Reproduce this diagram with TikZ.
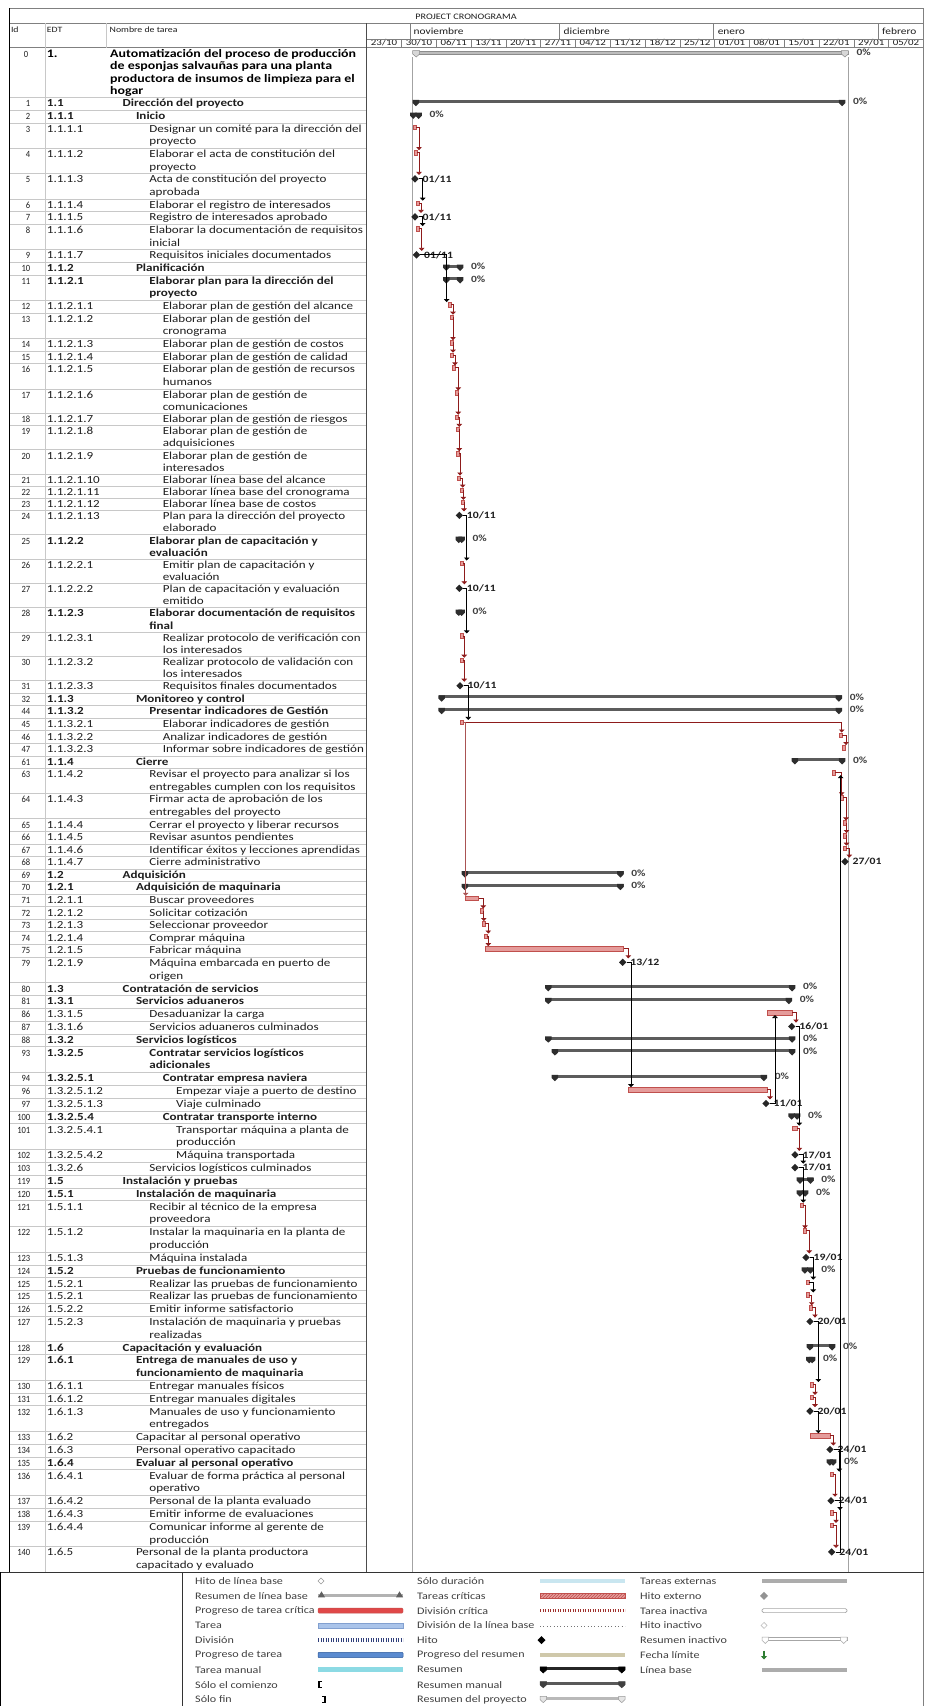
\documentclass[tikz,border=0pt]{standalone}
\usepackage{fontspec}
\setmainfont{Carlito}
\newfontfamily\bodyfont{Carlito}[FakeStretch=1.21]
\newfontfamily\narrowfont{Carlito}[FakeStretch=0.9]
\usetikzlibrary{shapes.geometric,arrows.meta,patterns}

\definecolor{txt}{HTML}{1E1E1E}
\definecolor{gridc}{HTML}{C8C8C8}
\definecolor{framec}{HTML}{808080}
\definecolor{critfill}{HTML}{E59C9B}
\definecolor{critline}{HTML}{C0504D}
\definecolor{linkred}{HTML}{8E1B1B}
\definecolor{sumfill}{HTML}{5C5C5C}
\definecolor{capc}{HTML}{2E2E2E}
\definecolor{msfill}{HTML}{262626}
\definecolor{projfill}{HTML}{BDBDBD}
\definecolor{projedge}{HTML}{8C8C8C}
\definecolor{labc}{HTML}{404040}
\definecolor{lgCritProg}{HTML}{E04848}
\definecolor{lgTask}{HTML}{AAC4EA}
\definecolor{lgTaskEdge}{HTML}{82A0D0}
\definecolor{lgSplit}{HTML}{2F3E7A}
\definecolor{lgProg}{HTML}{5B8BD0}
\definecolor{lgProgEdge}{HTML}{2E5A9C}
\definecolor{lgManual}{HTML}{8CDAE4}
\definecolor{lgDur}{HTML}{C9E6F0}
\definecolor{lgCritSplit}{HTML}{A0302C}
\definecolor{lgSumProg}{HTML}{CFC8AA}
\definecolor{lgDeadline}{HTML}{2E7D32}

\tikzset{
  rowline/.style={draw=gridc, line width=0.5},
  idtxt/.style={anchor=base east, inner sep=0, text=txt, font=\narrowfont\fontsize{9.5}{11}\selectfont},
  edttxt/.style={anchor=base west, inner sep=0, text=txt, font=\bodyfont\fontsize{10.8}{12}\selectfont},
  nametxt/.style={anchor=base west, inner sep=0, text=txt, font=\bodyfont\fontsize{10.8}{12}\selectfont},
  hdrtxt/.style={anchor=base west, inner sep=0, text=txt, font=\bodyfont\fontsize{8.1}{10}\selectfont},
  hdrdate/.style={anchor=base, inner sep=0, text=txt, font=\bodyfont\fontsize{9}{10}\selectfont},
  hdrmonth/.style={anchor=base west, inner sep=0, text=txt, font=\bodyfont\fontsize{9.4}{10}\selectfont},
  crit/.style={rectangle, inner sep=0, minimum height=4.5, fill=critfill, draw=critline, line width=0.4},
  ms/.style={diamond, aspect=1, inner sep=0, minimum width=7.5, minimum height=7.5, fill=msfill},
  sumbar/.style={rectangle, inner sep=0, minimum height=3, fill=sumfill},
  capfill/.style={fill=capc},
  projbar/.style={rectangle, inner sep=0, minimum height=3.5, fill=projfill, draw=projedge, line width=0.4},
  projcap/.style={fill=projfill!60, draw=projedge, line width=0.5},
  projline/.style={draw=projedge!80, line width=0.9},
  pctlab/.style={anchor=west, inner sep=0, text=labc, font=\bodyfont\bfseries\fontsize{9.5}{11}\selectfont},
  datelab/.style={anchor=west, inner sep=0, text=txt, font=\bodyfont\bfseries\fontsize{9.7}{11}\selectfont},
  crl/.style={draw=linkred, line width=0.75, -{Triangle[length=3pt,width=5.5pt]}},
  crlthin/.style={draw=linkred!75, line width=0.5, -{Triangle[length=3pt,width=5.5pt]}},
  bkl/.style={draw=black, line width=0.75, -{Triangle[length=3pt,width=5.5pt]}},
  legtxt/.style={anchor=west, inner sep=0, text=labc, font=\bodyfont\fontsize{10}{12}\selectfont},
}

% one table row: key, top, line height, id, EDT, indent x, weight, line 1, line 2
\newcommand\Row[9]{%
  \draw[rowline] (9.3,#2) -- (366.7,#2);
  \coordinate (Y#1) at (0,{#2+#3/2});
  \node[idtxt] (id#1) at (30.5,{#2+9.4}) {#4};
  \node[edttxt] (edt#1) at (46.7,{#2+9.4}) {#7#5};
  \node[nametxt] (nm#1) at (#6,{#2+9.4}) {#7#8};
  \if\relax\detokenize{#9}\relax\else
    \node[nametxt] (nmb#1) at (#6,{#2+9.4+#3}) {#7#9};
  \fi}

% Gantt elements
\newcommand\GSum[5]{%
  \node[sumbar, minimum width={#3-#2}, anchor=north west, yshift=4pt] (#1) at (#2,0 |- Y#4) {};
  \fill[capfill] (#1.north west) -- ++(6.5,0) -- ++(0,3.2) -- ++(-3.25,3.2) -- ++(-3.25,-3.2) -- cycle;
  \fill[capfill] (#1.north east) -- ++(-6.5,0) -- ++(0,3.2) -- ++(3.25,3.2) -- ++(3.25,-3.2) -- cycle;
  \node[pctlab] (#1l) at ([xshift=7.5pt]#1.east) {#5};}
\newcommand\GTask[4]{%
  \node[crit, minimum width={#3-#2}, anchor=west, yshift=2pt] (#1) at (#2,0 |- Y#4) {};}
\newcommand\GMile[4]{%
  \node[ms, yshift=1pt] (#1) at (#2,0 |- Y#3) {};
  \node[datelab] (#1l) at ([xshift=3.5pt]#1.east) {#4};}
\newcommand\Lk[4]{\draw[#1] (#2.east) -| (#4,0 |- #3.north);}
\newcommand\Lu[4]{\draw[#1] (#2.east) -| (#4,0 |- #3.south);}
% legend summary symbol
\newcommand\LegSum[6]{%
  \fill[#4] (#1,{#3-2.5}) rectangle (#2,{#3+0.5});
  \filldraw[fill=#5, draw=#6, line width=0.5] (#1,{#3-3}) -- ++(6.5,0) -- ++(0,3.2) -- ++(-3.25,3) -- ++(-3.25,-3) -- cycle;
  \filldraw[fill=#5, draw=#6, line width=0.5] (#2,{#3-3}) -- ++(-6.5,0) -- ++(0,3.2) -- ++(3.25,3) -- ++(3.25,-3) -- cycle;}

\begin{document}
\begin{tikzpicture}[x=1pt,y=-1pt]
\useasboundingbox (0,0) rectangle (924,1706);
\fill[white] (0,0) rectangle (924,1706);

% ---------------- header ----------------
\node[anchor=base, inner sep=0, text=txt, font=\bodyfont\fontsize{8.4}{10}\selectfont] (title) at (466,19) {PROJECT CRONOGRAMA};
\node[hdrtxt] (hId) at (10.8,32.3) {Id};
\node[hdrtxt] (hEdt) at (46.7,32.3) {EDT};
\node[hdrtxt] (hName) at (109.5,32.3) {Nombre de tarea};
\node[hdrmonth] (mNov) at (413.5,34.5) {noviembre};
\node[hdrmonth] (mDic) at (563.5,34.5) {diciembre};
\node[hdrmonth] (mEne) at (717.6,34.5) {enero};
\node[hdrmonth] (mFeb) at (882,34.5) {febrero};
\foreach \xm in {410.4,559.5,713.6,878.5} \draw[framec, line width=0.5] (\xm,23.3) -- (\xm,39.3);
\foreach \dd/\mm [count=\k from 0] in {23/10,30/10,06/11,13/11,20/11,27/11,04/12,11/12,18/12,25/12,01/01,08/01,15/01,22/01,29/01,05/02}{
  \node[hdrdate] (wk\k) at ({384.1+34.79*\k},45.6) {\dd/\mm};
  \draw[framec, line width=0.5] ({366.7+34.79*\k},39.3) -- ++(0,8.4);
}

% ---------------- row 0 ----------------
\node[idtxt] (id0) at (28.5,57.2) {0};
\node[anchor=base west, inner sep=0, text=black, font=\bodyfont\bfseries\fontsize{11.5}{12.5}\selectfont] (edt0) at (46.7,57.2) {1.};
\foreach \ln [count=\j from 0] in {Automatización del proceso de producción,de esponjas salvauñas para una planta,productora de insumos de limpieza para el,hogar}
  \node[anchor=base west, inner sep=0, text=black, font=\bodyfont\bfseries\fontsize{11.5}{12.5}\selectfont] (nm0-\j) at (110,{57.2+12.45*\j}) {\ln};

% ---------------- rows ----------------
\Row{1}{97.5}{12.67}{1}{1.1}{122.4}{\bfseries}{Dirección del proyecto}{}
\Row{2}{110.2}{12.67}{2}{1.1.1}{135.8}{\bfseries}{Inicio}{}
\Row{3}{122.8}{12.67}{3}{1.1.1.1}{149.2}{}{Designar un comité para la dirección del}{proyecto}
\Row{4}{148.2}{12.67}{4}{1.1.1.2}{149.2}{}{Elaborar el acta de constitución del}{proyecto}
\Row{5}{173.5}{12.67}{5}{1.1.1.3}{149.2}{}{Acta de constitución del proyecto}{aprobada}
\Row{6}{198.8}{12.67}{6}{1.1.1.4}{149.2}{}{Elaborar el registro de interesados}{}
\Row{7}{211.5}{12.67}{7}{1.1.1.5}{149.2}{}{Registro de interesados aprobado}{}
\Row{8}{224.2}{12.67}{8}{1.1.1.6}{149.2}{}{Elaborar la documentación de requisitos}{inicial}
\Row{9}{249.5}{12.67}{9}{1.1.1.7}{149.2}{}{Requisitos iniciales documentados}{}
\Row{10}{262.2}{12.67}{10}{1.1.2}{135.8}{\bfseries}{Planificación}{}
\Row{11}{274.8}{12.67}{11}{1.1.2.1}{149.2}{\bfseries}{Elaborar plan para la dirección del}{proyecto}
\Row{12}{300.2}{12.67}{12}{1.1.2.1.1}{162.6}{}{Elaborar plan de gestión del alcance}{}
\Row{13}{312.8}{12.67}{13}{1.1.2.1.2}{162.6}{}{Elaborar plan de gestión del}{cronograma}
\Row{14}{338.2}{12.67}{14}{1.1.2.1.3}{162.6}{}{Elaborar plan de gestión de costos}{}
\Row{15}{350.8}{12.67}{15}{1.1.2.1.4}{162.6}{}{Elaborar plan de gestión de calidad}{}
\Row{16}{363.5}{12.67}{16}{1.1.2.1.5}{162.6}{}{Elaborar plan de gestión de recursos}{humanos}
\Row{17}{388.8}{12.15}{17}{1.1.2.1.6}{162.6}{}{Elaborar plan de gestión de}{comunicaciones}
\Row{18}{413.1}{12.15}{18}{1.1.2.1.7}{162.6}{}{Elaborar plan de gestión de riesgos}{}
\Row{19}{425.3}{12.15}{19}{1.1.2.1.8}{162.6}{}{Elaborar plan de gestión de}{adquisiciones}
\Row{20}{449.6}{12.15}{20}{1.1.2.1.9}{162.6}{}{Elaborar plan de gestión de}{interesados}
\Row{21}{473.9}{12.15}{21}{1.1.2.1.10}{162.6}{}{Elaborar línea base del alcance}{}
\Row{22}{486.0}{12.15}{22}{1.1.2.1.11}{162.6}{}{Elaborar línea base del cronograma}{}
\Row{23}{498.2}{12.15}{23}{1.1.2.1.12}{162.6}{}{Elaborar línea base de costos}{}
\Row{24}{510.3}{12.15}{24}{1.1.2.1.13}{162.6}{}{Plan para la dirección del proyecto}{elaborado}
\Row{25}{534.6}{12.15}{25}{1.1.2.2}{149.2}{\bfseries}{Elaborar plan de capacitación y}{evaluación}
\Row{26}{558.9}{12.15}{26}{1.1.2.2.1}{162.6}{}{Emitir plan de capacitación y}{evaluación}
\Row{27}{583.2}{12.15}{27}{1.1.2.2.2}{162.6}{}{Plan de capacitación y evaluación}{emitido}
\Row{28}{607.5}{12.15}{28}{1.1.2.3}{149.2}{\bfseries}{Elaborar documentación de requisitos}{final}
\Row{29}{631.8}{12.15}{29}{1.1.2.3.1}{162.6}{}{Realizar protocolo de verificación con}{los interesados}
\Row{30}{656.1}{12.15}{30}{1.1.2.3.2}{162.6}{}{Realizar protocolo de validación con}{los interesados}
\Row{31}{680.4}{12.57}{31}{1.1.2.3.3}{162.6}{}{Requisitos finales documentados}{}
\Row{32}{693.0}{12.57}{32}{1.1.3}{135.8}{\bfseries}{Monitoreo y control}{}
\Row{44}{705.5}{12.57}{44}{1.1.3.2}{149.2}{\bfseries}{Presentar indicadores de Gestión}{}
\Row{45}{718.1}{12.57}{45}{1.1.3.2.1}{162.6}{}{Elaborar indicadores de gestión}{}
\Row{46}{730.7}{12.57}{46}{1.1.3.2.2}{162.6}{}{Analizar indicadores de gestión}{}
\Row{47}{743.2}{12.57}{47}{1.1.3.2.3}{162.6}{}{Informar sobre indicadores de gestión}{}
\Row{61}{755.8}{12.57}{61}{1.1.4}{135.8}{\bfseries}{Cierre}{}
\Row{63}{768.4}{12.57}{63}{1.1.4.2}{149.2}{}{Revisar el proyecto para analizar si los}{entregables cumplen con los requisitos}
\Row{64}{793.5}{12.57}{64}{1.1.4.3}{149.2}{}{Firmar acta de aprobación de los}{entregables del proyecto}
\Row{65}{818.6}{12.57}{65}{1.1.4.4}{149.2}{}{Cerrar el proyecto y liberar recursos}{}
\Row{66}{831.2}{12.57}{66}{1.1.4.5}{149.2}{}{Revisar asuntos pendientes}{}
\Row{67}{843.8}{12.57}{67}{1.1.4.6}{149.2}{}{Identificar éxitos y lecciones aprendidas}{}
\Row{68}{856.3}{12.57}{68}{1.1.4.7}{149.2}{}{Cierre administrativo}{}
\Row{69}{868.9}{12.57}{69}{1.2}{122.4}{\bfseries}{Adquisición}{}
\Row{70}{881.5}{12.57}{70}{1.2.1}{135.8}{\bfseries}{Adquisición de maquinaria}{}
\Row{71}{894.0}{12.57}{71}{1.2.1.1}{149.2}{}{Buscar proveedores}{}
\Row{72}{906.6}{12.57}{72}{1.2.1.2}{149.2}{}{Solicitar cotización}{}
\Row{73}{919.2}{12.57}{73}{1.2.1.3}{149.2}{}{Seleccionar proveedor}{}
\Row{74}{931.7}{12.57}{74}{1.2.1.4}{149.2}{}{Comprar máquina}{}
\Row{75}{944.3}{12.57}{75}{1.2.1.5}{149.2}{}{Fabricar máquina}{}
\Row{79}{956.9}{12.83}{79}{1.2.1.9}{149.2}{}{Máquina embarcada en puerto de}{origen}
\Row{80}{982.6}{12.83}{80}{1.3}{122.4}{\bfseries}{Contratación de servicios}{}
\Row{81}{995.4}{12.83}{81}{1.3.1}{135.8}{\bfseries}{Servicios aduaneros}{}
\Row{86}{1008.2}{12.83}{86}{1.3.1.5}{149.2}{}{Desaduanizar la carga}{}
\Row{87}{1021.1}{12.83}{87}{1.3.1.6}{149.2}{}{Servicios aduaneros culminados}{}
\Row{88}{1033.9}{12.83}{88}{1.3.2}{135.8}{\bfseries}{Servicios logísticos}{}
\Row{93}{1046.7}{12.83}{93}{1.3.2.5}{149.2}{\bfseries}{Contratar servicios logísticos}{adicionales}
\Row{94}{1072.4}{12.83}{94}{1.3.2.5.1}{162.6}{\bfseries}{Contratar empresa naviera}{}
\Row{96}{1085.2}{12.83}{96}{1.3.2.5.1.2}{176}{}{Empezar viaje a puerto de destino}{}
\Row{97}{1098.0}{12.83}{97}{1.3.2.5.1.3}{176}{}{Viaje culminado}{}
\Row{100}{1110.9}{12.83}{100}{1.3.2.5.4}{162.6}{\bfseries}{Contratar transporte interno}{}
\Row{101}{1123.7}{12.83}{101}{1.3.2.5.4.1}{176}{}{Transportar máquina a planta de}{producción}
\Row{102}{1149.4}{12.83}{102}{1.3.2.5.4.2}{176}{}{Máquina transportada}{}
\Row{103}{1162.2}{12.83}{103}{1.3.2.6}{149.2}{}{Servicios logísticos culminados}{}
\Row{119}{1175.0}{12.83}{119}{1.5}{122.4}{\bfseries}{Instalación y pruebas}{}
\Row{120}{1187.9}{12.83}{120}{1.5.1}{135.8}{\bfseries}{Instalación de maquinaria}{}
\Row{121}{1200.7}{12.83}{121}{1.5.1.1}{149.2}{}{Recibir al técnico de la empresa}{proveedora}
\Row{122}{1226.4}{12.83}{122}{1.5.1.2}{149.2}{}{Instalar la maquinaria en la planta de}{producción}
\Row{123}{1252.0}{12.83}{123}{1.5.1.3}{149.2}{}{Máquina instalada}{}
\Row{124}{1264.9}{12.8}{124}{1.5.2}{135.8}{\bfseries}{Pruebas de funcionamiento}{}
\Row{125a}{1277.7}{12.8}{125}{1.5.2.1}{149.2}{}{Realizar las pruebas de funcionamiento}{}
\Row{125b}{1290.5}{12.8}{125}{1.5.2.1}{149.2}{}{Realizar las pruebas de funcionamiento}{}
\Row{126}{1303.3}{12.8}{126}{1.5.2.2}{149.2}{}{Emitir informe satisfactorio}{}
\Row{127}{1316.1}{12.8}{127}{1.5.2.3}{149.2}{}{Instalación de maquinaria y pruebas}{realizadas}
\Row{128}{1341.7}{12.8}{128}{1.6}{122.4}{\bfseries}{Capacitación y evaluación}{}
\Row{129}{1354.5}{12.8}{129}{1.6.1}{135.8}{\bfseries}{Entrega de manuales de uso y}{funcionamiento de maquinaria}
\Row{130}{1380.1}{12.8}{130}{1.6.1.1}{149.2}{}{Entregar manuales físicos}{}
\Row{131}{1392.9}{12.8}{131}{1.6.1.2}{149.2}{}{Entregar manuales digitales}{}
\Row{132}{1405.7}{12.8}{132}{1.6.1.3}{149.2}{}{Manuales de uso y funcionamiento}{entregados}
\Row{133}{1431.3}{12.8}{133}{1.6.2}{135.8}{}{Capacitar al personal operativo}{}
\Row{134}{1444.1}{12.8}{134}{1.6.3}{135.8}{}{Personal operativo capacitado}{}
\Row{135}{1456.9}{12.8}{135}{1.6.4}{135.8}{\bfseries}{Evaluar al personal operativo}{}
\Row{136}{1469.7}{12.8}{136}{1.6.4.1}{149.2}{}{Evaluar de forma práctica al personal}{operativo}
\Row{137}{1495.3}{12.8}{137}{1.6.4.2}{149.2}{}{Personal de la planta evaluado}{}
\Row{138}{1508.1}{12.8}{138}{1.6.4.3}{149.2}{}{Emitir informe de evaluaciones}{}
\Row{139}{1520.9}{12.8}{139}{1.6.4.4}{149.2}{}{Comunicar informe al gerente de}{producción}
\Row{140}{1546.5}{12.8}{140}{1.6.5}{135.8}{}{Personal de la planta productora}{capacitado y evaluado}

% ---------------- frame ----------------
\draw[framec, line width=0.6] (9.3,8.3) -- (923.5,8.3);
\draw[framec, line width=0.6] (9.3,23.3) -- (923.5,23.3);
\draw[framec, line width=0.6] (366.7,39.3) -- (923.5,39.3);
\draw[framec, line width=0.6] (9.3,47.7) -- (923.5,47.7);
\draw[framec, line width=0.6] (923.5,8.3) -- (923.5,1706);
\draw[gridc, line width=0.6] (45,23.3) -- (45,1572);
\draw[gridc, line width=0.6] (106,23.3) -- (106,47.7);
\draw[black!70, line width=0.7] (366.7,23.3) -- (366.7,1572);
\draw[black, line width=1.6] (9.3,8.3) -- (9.3,1572);
\draw[black!80, line width=0.8] (0,1572) -- (923.5,1572);
\draw[black, line width=1.2] (0.6,1572) -- (0.6,1706);
\draw[black!80, line width=0.8] (182,1572) -- (182,1706);

% ---------------- Gantt ----------------
% project summary and its start / finish lines
\draw[projline] (412.7,57) -- (412.7,1572);
\draw[projline] (848,57) -- (848,1572);
\node[projbar, minimum width=435.3, anchor=north west] (p0) at (412.7,50.5) {};
\filldraw[projcap] (p0.north west) -- ++(7,0) -- ++(0,3.5) -- ++(-3.5,3) -- ++(-3.5,-3) -- cycle;
\filldraw[projcap] (p0.north east) -- ++(-7,0) -- ++(0,3.5) -- ++(3.5,3) -- ++(3.5,-3) -- cycle;
\node[pctlab] (p0l) at ([xshift=8pt]p0.east) {0\%};

% 1.1 Dirección del proyecto
\GSum{s1}{412.7}{845}{1}{0\%}
\GSum{s2}{410}{421.5}{2}{0\%}
\GTask{t3}{412.5}{415.5}{3}
\GTask{t4}{413.5}{416.5}{4}
\GMile{m5}{415}{5}{01/11}
\GTask{t6}{416}{419}{6}
\GMile{m7}{415}{7}{01/11}
\GTask{t8}{416}{419}{8}
\GMile{m9}{416.5}{9}{01/11}
\Lk{crl}{t3}{t4}{419}
\Lk{crl}{t4}{m5}{419}
\Lk{bkl}{m5}{t6}{422.7}
\Lk{crl}{t6}{m7}{421}
\Lk{bkl}{m7}{t8}{422.7}
\Lk{crl}{t8}{m9}{421.7}

\GSum{s10}{443}{463}{10}{0\%}
\GSum{s11}{443}{463}{11}{0\%}
\GTask{t12}{448}{451}{12}
\GTask{t13}{450}{453}{13}
\GTask{t14}{450}{453}{14}
\GTask{t15}{450}{453}{15}
\GTask{t16}{452}{455}{16}
\GTask{t17}{455}{458}{17}
\GTask{t18}{455}{458}{18}
\GTask{t19}{456}{459}{19}
\GTask{t20}{456}{459}{20}
\GTask{t21}{457}{460}{21}
\GTask{t22}{459.5}{462.5}{22}
\GTask{t23}{460.5}{463.5}{23}
\GMile{m24}{459.3}{24}{10/11}
\Lk{bkl}{m9}{t12}{446.7}
\Lk{crl}{t12}{t13}{453}
\Lk{crl}{t13}{t14}{453}
\Lk{crl}{t14}{t15}{453}
\Lk{crl}{t15}{t16}{455}
\Lk{crl}{t16}{t17}{458.3}
\Lk{crl}{t17}{t18}{458.3}
\Lk{crl}{t18}{t19}{459.3}
\Lk{crl}{t19}{t20}{459.3}
\Lk{crl}{t20}{t21}{460}
\Lk{crl}{t21}{t22}{462.7}
\Lk{crl}{t22}{t23}{463.3}
\Lk{crl}{t23}{m24}{464}

\GSum{s25}{455.5}{464.5}{25}{0\%}
\GTask{t26}{460}{463}{26}
\GMile{m27}{459.3}{27}{10/11}
\GSum{s28}{455.5}{464.5}{28}{0\%}
\GTask{t29}{460}{463}{29}
\GTask{t30}{460}{463}{30}
\GMile{m31}{460}{31}{10/11}
\Lk{bkl}{m24}{t26}{466.7}
\Lk{crl}{t26}{m27}{464.3}
\Lk{bkl}{m27}{t29}{466.7}
\Lk{crl}{t29}{t30}{464.3}
\Lk{crl}{t30}{m31}{464.3}

% 1.1.3 Monitoreo y control / 1.1.4 Cierre
\GSum{s32}{438.3}{841.7}{32}{0\%}
\GSum{s44}{438.3}{841.7}{44}{0\%}
\GTask{t45}{459.5}{462.5}{45}
\GTask{t46}{839}{842}{46}
\GTask{t47}{842}{845}{47}
\Lk{bkl}{m31}{t45}{468.3}
\Lk{crl}{t45}{t46}{841.7}
\Lk{crl}{t46}{t47}{846}
\GSum{s61}{791.7}{845}{61}{0\%}
\GTask{t63}{831.5}{835}{63}
\GTask{t64}{840}{843}{64}
\GTask{t65}{843}{846}{65}
\GTask{t66}{843}{846}{66}
\GTask{t67}{843}{846}{67}
\GMile{m68}{845}{68}{27/01}
\Lk{crl}{t63}{t64}{841.7}
\Lk{crl}{t64}{t65}{846}
\Lk{crl}{t65}{t66}{846.5}
\Lk{crl}{t66}{t67}{846.5}
\Lk{crl}{t67}{m68}{849.3}

% 1.2 Adquisición
\GSum{s69}{461.7}{623.3}{69}{0\%}
\GSum{s70}{461.7}{623.3}{70}{0\%}
\GTask{t71}{465}{478.3}{71}
\GTask{t72}{479.5}{482.5}{72}
\GTask{t73}{481.5}{484.5}{73}
\GTask{t74}{484}{487}{74}
\GTask{t75}{485}{623.3}{75}
\GMile{m79}{622.7}{79}{13/12}
\Lk{crlthin}{t45}{t71}{465.7}
\Lk{crl}{t71}{t72}{483.3}
\Lk{crl}{t72}{t73}{483.8}
\Lk{crl}{t73}{t74}{488.3}
\Lk{crl}{t74}{t75}{488.3}
\Lk{crl}{t75}{m79}{628.3}

% 1.3 Contratación de servicios
\GSum{s80}{545}{795}{80}{0\%}
\GSum{s81}{545}{791.7}{81}{0\%}
\GTask{t86}{766.7}{791.7}{86}
\GMile{m87}{791.7}{87}{16/01}
\GSum{s88}{545}{795}{88}{0\%}
\GSum{s93}{551.7}{795}{93}{0\%}
\GSum{s94}{551.7}{766.7}{94}{0\%}
\GTask{t96}{628.3}{766.7}{96}
\GMile{m97}{766}{97}{11/01}
\GSum{s100}{788.3}{800}{100}{0\%}
\GTask{t101}{791.5}{796.5}{101}
\GMile{m102}{795}{102}{17/01}
\GMile{m103}{795}{103}{17/01}
\Lk{crl}{t86}{m87}{796}
\Lk{bkl}{m79}{t96}{631}
\Lk{crl}{t96}{m97}{770}
\Lu{bkl}{m97}{t86}{775}
\Lk{bkl}{m87}{t101}{799.3}
\Lk{crl}{t101}{m102}{799.3}
\Lk{bkl}{m102}{m103}{803.3}

% 1.5 Instalación y pruebas
\GSum{s119}{796.7}{813.3}{119}{0\%}
\GSum{s120}{796.7}{808}{120}{0\%}
\GTask{t121}{800}{803}{121}
\GTask{t122}{802.5}{805.5}{122}
\GMile{m123}{806}{123}{19/01}
\GSum{s124}{801.7}{813.3}{124}{0\%}
\GTask{t125a}{805.5}{808.5}{125a}
\GTask{t125b}{805.5}{808.5}{125b}
\GTask{t126}{808.5}{811.5}{126}
\GMile{m127}{810}{127}{20/01}
\Lk{bkl}{m103}{t121}{803.3}
\Lk{crl}{t121}{t122}{805}
\Lk{crl}{t122}{m123}{809.3}
\Lk{bkl}{m123}{t125a}{813.3}
\Lk{bkl}{t125a}{t125b}{813.3}
\Lk{crl}{t125b}{t126}{811.7}
\Lk{crl}{t126}{m127}{815}

% 1.6 Capacitación y evaluación
\GSum{s128}{806.7}{835}{128}{0\%}
\GSum{s129}{806}{815}{129}{0\%}
\GTask{t130}{810}{813}{130}
\GTask{t131}{810}{813}{131}
\GMile{m132}{810}{132}{20/01}
\GTask{t133}{810}{830}{133}
\GMile{m134}{830}{134}{24/01}
\GSum{s135}{826.7}{836}{135}{0\%}
\GTask{t136}{829.5}{832.5}{136}
\GMile{m137}{831}{137}{24/01}
\GTask{t138}{830}{833}{138}
\GTask{t139}{830}{833}{139}
\GMile{m140}{831.7}{140}{24/01}
\Lk{bkl}{m127}{t130}{818.3}
\Lk{crl}{t130}{t131}{815}
\Lk{crl}{t131}{m132}{815}
\Lk{bkl}{m132}{t133}{818.3}
\Lk{crl}{t133}{m134}{833.3}
\Lk{bkl}{m134}{t136}{839.3}
\Lk{crl}{t136}{m137}{835}
\Lk{bkl}{m137}{t138}{840}
\Lk{crl}{t138}{t139}{836}
\Lk{crl}{t139}{m140}{836}
\Lu{bkl}{m140}{t63}{840.7}

% ---------------- legend ----------------
\foreach \lab [count=\k from 0] in {Hito de línea base,Resumen de línea base,Progreso de tarea crítica,Tarea,División,Progreso de tarea,Tarea manual,Sólo el comienzo,Sólo fin}
  \node[legtxt] (lgA\k) at (195,{1581+14.8*\k}) {\lab};
\foreach \lab [count=\k from 0] in {Sólo duración,Tareas críticas,División crítica,División de la línea base,Hito,Progreso del resumen,Resumen,Resumen manual,Resumen del proyecto}
  \node[legtxt] (lgB\k) at (417,{1581+14.8*\k}) {\lab};
\foreach \lab [count=\k from 0] in {Tareas externas,Hito externo,Tarea inactiva,Hito inactivo,Resumen inactivo,Fecha límite,Línea base}
  \node[legtxt] (lgC\k) at (640,{1581+14.8*\k}) {\lab};

% column 1 symbols
\filldraw[fill=white, draw=gray!80, line width=0.6] (321,1578) -- (324,1581) -- (321,1584) -- (318,1581) -- cycle;
\fill[gray!60] (318,1594.3) rectangle (403,1597.3);
\fill[gray!75!black] (318,1597.3) -- (321.5,1591.3) -- (325,1597.3) -- cycle;
\fill[gray!75!black] (396,1597.3) -- (399.5,1591.3) -- (403,1597.3) -- cycle;
\filldraw[fill=lgCritProg, draw=critline, line width=0.4, rounded corners=1] (318,1608.1) rectangle (403,1613.1);
\filldraw[fill=lgTask, draw=lgTaskEdge, line width=0.4] (318,1622.9) rectangle (403,1627.9);
\draw[draw=lgSplit, line width=3.5, dash pattern=on 0.7pt off 1.8pt] (318,1640.2) -- (403,1640.2);
\filldraw[fill=lgProg, draw=lgProgEdge, line width=0.5, rounded corners=1] (318,1652.3) rectangle (403,1657.7);
\fill[lgManual] (318,1667.3) rectangle (403,1672.3);
\draw[black, line width=1.6] (322,1681.6) -- (318.8,1681.6) -- (318.8,1687.6) -- (322,1687.6);
\draw[black, line width=1.6] (322,1696.4) -- (325.2,1696.4) -- (325.2,1702.4) -- (322,1702.4);

% column 2 symbols
\fill[lgDur] (540,1579) rectangle (625,1583);
\filldraw[fill=critfill, draw=critline, line width=0.5] (540,1593.3) rectangle (625,1598.3);
\fill[pattern=north east lines, pattern color=critline] (540,1593.3) rectangle (625,1598.3);
\draw[draw=lgCritSplit, line width=3.5, dash pattern=on 0.7pt off 1.8pt] (540,1610.6) -- (625,1610.6);
\draw[gray!90!black, line width=1.3, dash pattern=on 1pt off 2.4pt] (540,1626.4) -- (625,1626.4);
\fill[black] (541.5,1636.2) -- (545.5,1640.2) -- (541.5,1644.2) -- (537.5,1640.2) -- cycle;
\fill[lgSumProg] (540,1653) rectangle (625,1657);
\LegSum{540}{625}{1669.8}{black!85}{black}{black}
\LegSum{540}{625}{1684.6}{black!65}{black!75}{black!75}
\LegSum{540}{625}{1699.4}{gray!55}{gray!20}{gray!80}

% column 3 symbols
\fill[gray!65] (762,1579) rectangle (847,1583);
\fill[gray!85] (764,1591.8) -- (768,1595.8) -- (764,1599.8) -- (760,1595.8) -- cycle;
\draw[gray!70, line width=0.6, rounded corners=1.5] (762,1608.6) rectangle (847,1612.6);
\draw[gray!50, line width=0.6] (764,1622.4) -- (767,1625.4) -- (764,1628.4) -- (761,1625.4) -- cycle;
\draw[gray!70, line width=0.5] (762,1637.4) rectangle (847,1640.4);
\filldraw[fill=white, draw=gray!70, line width=0.5] (762,1637.2) -- ++(6.5,0) -- ++(0,3.2) -- ++(-3.25,3) -- ++(-3.25,-3) -- cycle;
\filldraw[fill=white, draw=gray!70, line width=0.5] (847,1637.2) -- ++(-6.5,0) -- ++(0,3.2) -- ++(3.25,3) -- ++(3.25,-3) -- cycle;
\draw[draw=lgDeadline, line width=1.3, -{Triangle[length=3.5pt,width=6pt]}] (764,1650.5) -- (764,1659.5);
\fill[gray!65] (762,1668) rectangle (847,1671.5);
\end{tikzpicture}
\end{document}
